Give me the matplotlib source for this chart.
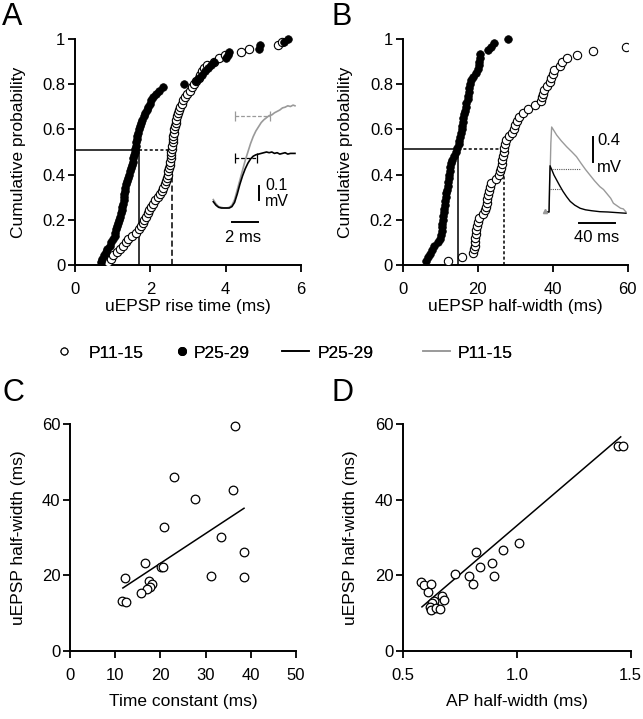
import numpy as np
import matplotlib
matplotlib.use("Agg")
import matplotlib.pyplot as plt
from matplotlib.lines import Line2D

plt.rcParams['font.family'] = ['Liberation Sans', 'DejaVu Sans']
plt.rcParams['font.size'] = 12

# ---------------- data ----------------
# Panel A: uEPSP rise time (ms), sorted
riseA_p25 = [0.68, 0.72, 0.78, 0.82, 0.86, 0.92, 0.96, 1.00, 1.05, 1.07, 1.10, 1.12, 1.14, 1.16,
             1.19, 1.22, 1.24, 1.25, 1.27, 1.29, 1.30, 1.31, 1.32, 1.34, 1.36, 1.38, 1.41, 1.43,
             1.46, 1.48, 1.50, 1.53, 1.55, 1.57, 1.59, 1.60, 1.61, 1.63, 1.64, 1.65, 1.67, 1.70,
             1.73, 1.76, 1.79, 1.82, 1.85, 1.90, 1.94, 1.98, 2.03, 2.08, 2.15, 2.22, 2.33, 2.90,
             3.20, 3.28, 3.36, 3.44, 3.52, 3.60, 3.68, 4.00, 4.05, 4.10, 4.88, 4.92, 5.55, 5.65]
riseA_p11 = [0.88, 0.95, 1.02, 1.12, 1.20, 1.28, 1.35, 1.42, 1.52, 1.62, 1.70, 1.76, 1.80, 1.84,
             1.88, 1.93, 1.97, 2.02, 2.07, 2.12, 2.20, 2.26, 2.30, 2.34, 2.38, 2.41, 2.44, 2.46,
             2.48, 2.50, 2.52, 2.53, 2.54, 2.55, 2.56, 2.57, 2.58, 2.59, 2.60, 2.61, 2.62, 2.64,
             2.66, 2.67, 2.69, 2.71, 2.74, 2.77, 2.80, 2.84, 2.88, 2.92, 2.98, 3.04, 3.10, 3.16,
             3.22, 3.28, 3.32, 3.38, 3.43, 3.50, 3.68, 3.82, 3.98, 4.42, 4.62, 5.38, 5.50, 6.60]
# Panel B: uEPSP half-width (ms), sorted
hwB_p25 = [6.3, 6.8, 7.2, 7.7, 8.4, 9.3, 10.0, 10.2, 10.4, 10.5, 10.6, 10.7, 10.8, 10.9, 11.0,
           11.2, 11.4, 11.5, 11.6, 11.8, 12.0, 12.2, 12.3, 12.4, 12.6, 12.7, 12.9, 13.1, 13.6,
           14.1, 14.6, 14.9, 15.1, 15.3, 15.5, 15.7, 15.8, 16.0, 16.2, 16.4, 16.6, 16.8, 17.0,
           17.3, 17.5, 17.7, 17.8, 17.9, 18.1, 18.8, 19.6, 20.1, 20.3, 20.4, 20.5, 20.7, 22.7,
           23.6, 24.4, 28.2]
hwB_p11 = [12.2, 15.8, 18.8, 19.0, 19.2, 19.3, 19.4, 19.5, 19.6, 19.8, 20.0, 20.4, 21.4, 21.9,
           22.2, 22.4, 22.6, 22.8, 23.0, 23.2, 23.5, 24.8, 25.6, 26.0, 26.2, 26.4, 26.6, 26.8,
           27.0, 27.1, 27.3, 27.6, 28.4, 29.2, 29.7, 30.0, 30.4, 31.0, 32.2, 33.4, 35.2, 36.9,
           37.2, 37.4, 37.6, 38.6, 39.3, 39.6, 40.0, 40.4, 42.0, 42.6, 43.8, 46.4, 50.8, 59.5,
           64.0, 70.0]
# medians (P25-29, P11-15) and the level they are read at
medA = [1.70, 2.57]
levelA = 0.51
medB = [14.8, 27.0]
levelB = 0.515

# Panel C
tauC = [36.4, 22.9, 36.0, 27.6, 20.7, 33.3, 38.6, 16.7, 20.1, 20.6, 12.2, 31.1, 38.6, 17.5,
        18.1, 17.7, 17.1, 15.7, 11.6, 12.5]
hwC = [59.4, 46.0, 42.5, 40.2, 32.7, 30.1, 26.1, 23.2, 22.2, 22.1, 19.3, 19.7, 19.4, 18.4,
       17.6, 16.9, 16.2, 15.2, 13.1, 12.8]
fitC_x = [11.7, 38.5]
fitC_y = [16.6, 37.7]

# Panel D
apD = [1.443, 1.468, 1.009, 0.938, 0.820, 0.889, 0.837, 0.729, 0.787, 0.899, 0.808, 0.579,
       0.591, 0.622, 0.610, 0.670, 0.680, 0.635, 0.625, 0.617, 0.620, 0.644, 0.661]
hwD = [54.2, 54.2, 28.5, 26.7, 26.1, 23.3, 22.2, 20.4, 19.7, 19.7, 17.6, 18.1, 17.4, 17.6,
       15.6, 14.6, 13.5, 13.2, 12.7, 11.6, 10.8, 11.4, 11.0]
fitD_x = [0.582, 1.456]
fitD_y = [11.6, 56.6]

# Inset A traces (ms, mV)
trA_t = [0.0, 0.2, 0.4, 0.6, 0.8, 1.0, 1.2, 1.4, 1.6, 1.8, 2.0, 2.2, 2.4, 2.6, 2.8, 3.0, 3.2,
         3.4, 3.6, 3.8, 4.0, 4.2, 4.4, 4.6, 4.8, 5.0, 5.2, 5.4, 5.6, 5.8, 6.0, 6.14]
trA_p11 = [0.06, 0.03, 0.01, 0.005, 0.0, 0.0, 0.005, 0.02, 0.06, 0.13, 0.20, 0.27, 0.34, 0.40,
           0.46, 0.51, 0.55, 0.58, 0.61, 0.63, 0.645, 0.66, 0.665, 0.68, 0.69, 0.70, 0.715,
           0.72, 0.73, 0.725, 0.735, 0.73]
trA_p25 = [0.045, 0.02, 0.005, 0.0, 0.0, 0.0, 0.0, 0.01, 0.04, 0.10, 0.17, 0.23, 0.28, 0.32,
           0.35, 0.37, 0.38, 0.385, 0.39, 0.395, 0.40, 0.395, 0.40, 0.39, 0.395, 0.385, 0.39,
           0.395, 0.385, 0.39, 0.39, 0.39]
riseBarA_p11 = [1.63, 4.26, 0.657]
riseBarA_p25 = [1.63, 3.26, 0.355]

# Inset B traces (ms, mV)
trB_t11 = [0, 4.5, 5.5, 6.5, 7.4, 10, 13, 18, 24, 30, 35, 40, 45, 50, 55, 61, 65, 69, 73, 76,
           80, 84, 87, 90]
trB_p11 = [0, 0, 0.5, 1.1, 1.36, 1.30, 1.23, 1.14, 1.045, 0.96, 0.885, 0.78, 0.68, 0.59, 0.50,
           0.405, 0.36, 0.29, 0.22, 0.14, 0.10, 0.06, 0.05, 0.0]
trB_t25 = [0, 4.5, 5.0, 5.6, 8, 10, 13, 16, 20, 24, 28, 33, 39, 45, 52, 61, 70, 80, 90]
trB_p25 = [0, 0, 0.4, 0.74, 0.66, 0.59, 0.51, 0.43, 0.33, 0.245, 0.17, 0.11, 0.06, 0.035,
           0.02, 0.005, 0.0, -0.01, -0.02]
halfB_p11 = [7.4, 38.9, 0.683]
halfB_p25 = [5.6, 16.7, 0.373]

GRAY = '#9a9a9a'
W, H = 643, 719

fig = plt.figure(figsize=(W / 100, H / 100), dpi=100)


def fr(left, top, width, height):
    return [left / W, 1 - (top + height) / H, width / W, height / H]


def style(ax, xb=None, yb=None):
    for s in ['top', 'right']:
        ax.spines[s].set_visible(False)
    for s in ['left', 'bottom']:
        ax.spines[s].set_linewidth(1.4)
    ax.tick_params(direction='out', length=5, width=1.3, labelsize=12)
    ax.tick_params(axis='x', pad=7.5)
    ax.tick_params(axis='y', pad=2)
    if xb:
        ax.spines['bottom'].set_bounds(*xb)
    if yb:
        ax.spines['left'].set_bounds(*yb)


def cdf(vals):
    v = np.asarray(vals)
    return v, np.arange(1, len(v) + 1) / len(v)


# ---------------- Panel A ----------------
axA = fig.add_axes(fr(75, 39 - 226 * 0.03, 226, 226 * 1.03))
x, y = cdf(riseA_p11)
axA.plot(x, y, 'o', ms=6, mfc='white', mec='black', mew=0.8, zorder=3)
x, y = cdf(riseA_p25)
axA.plot(x, y, 'o', ms=5.5, mfc='black', mec='black', mew=0.5, zorder=4)
axA.plot([0, medA[0]], [levelA, levelA], color='black', lw=1.1, zorder=2)
axA.plot([medA[0], medA[1]], [levelA, levelA], color='black', lw=1.1, ls=(0, (2, 1.5)), zorder=2)
axA.plot([medA[0], medA[0]], [0, levelA], color='black', lw=1.1, zorder=2)
axA.plot([medA[1], medA[1]], [0, levelA], color='black', lw=1.1, ls=(0, (4, 2)), zorder=2)
axA.set_xlim(0, 6)
axA.set_ylim(0, 1.03)
axA.set_xticks([0, 2, 4, 6])
axA.set_yticks([0, 0.2, 0.4, 0.6, 0.8, 1])
axA.set_yticklabels(['0', '0.2', '0.4', '0.6', '0.8', '1'])
style(axA, yb=(0, 1))
axA.set_xlabel('uEPSP rise time (ms)', fontsize=12.5)
axA.set_ylabel('Cumulative probability', fontsize=12.5)
axA.xaxis.set_label_coords(0.5, -0.145)
axA.yaxis.set_label_coords(-0.215, 0.485)

# ---------------- Panel B ----------------
axB = fig.add_axes(fr(402.7, 39 - 226 * 0.03, 225, 226 * 1.03))
x, y = cdf(hwB_p11)
axB.plot(x, y, 'o', ms=6, mfc='white', mec='black', mew=0.8, zorder=3)
x, y = cdf(hwB_p25)
axB.plot(x, y, 'o', ms=5.5, mfc='black', mec='black', mew=0.5, zorder=4)
axB.plot([0, medB[0]], [levelB, levelB], color='black', lw=1.1, zorder=2)
axB.plot([medB[0], medB[1]], [levelB, levelB], color='black', lw=1.1, ls=(0, (2, 1.5)), zorder=2)
axB.plot([medB[0], medB[0]], [0, levelB], color='black', lw=1.1, zorder=2)
axB.plot([medB[1], medB[1]], [0, levelB], color='black', lw=1.1, ls=(0, (2, 1.5)), zorder=2)
axB.set_xlim(0, 60)
axB.set_ylim(0, 1.03)
axB.set_xticks([0, 20, 40, 60])
axB.set_yticks([0, 0.2, 0.4, 0.6, 0.8, 1])
axB.set_yticklabels(['0', '0.2', '0.4', '0.6', '0.8', '1'])
style(axB, yb=(0, 1))
axB.set_xlabel('uEPSP half-width (ms)', fontsize=12.5)
axB.set_ylabel('Cumulative probability', fontsize=12.5)
axB.xaxis.set_label_coords(0.5, -0.145)
axB.yaxis.set_label_coords(-0.222, 0.485)

# ---------------- Inset A ----------------
L, T, Wd, Hd = 205, 95, 95, 150
iA = fig.add_axes(fr(L, T, Wd, Hd))
iA.set_xlim((L - 213.3) / 13.3, (L + Wd - 213.3) / 13.3)
iA.set_ylim((208 - (T + Hd)) / 140, (208 - T) / 140)
iA.axis('off')
iA.patch.set_alpha(0)
iA.plot(trA_t, trA_p11, color=GRAY, lw=1.2)
iA.plot(trA_t, trA_p25, color='black', lw=1.2)
for bar, c in [(riseBarA_p11, GRAY), (riseBarA_p25, 'black')]:
    iA.plot(bar[:2], [bar[2], bar[2]], color=c, lw=0.9, ls=(0, (3, 1.5)))
    iA.plot(bar[:2], [bar[2], bar[2]], ls='none', marker='|', ms=7, mew=0.9, color=c)
iA.plot([3.44, 3.44], [0.057, 0.157], color='black', lw=1.4)
iA.plot([1.38, 3.38], [-0.102, -0.102], color='black', lw=1.4)
iA.text(3.89, 0.132, '0.1', fontsize=11.5, ha='left', va='baseline')
iA.text(3.89, 0.012, 'mV', fontsize=11.5, ha='left', va='baseline')
iA.text(2.27, -0.243, '2 ms', fontsize=12, ha='center', va='baseline')

# ---------------- Inset B ----------------
L, T, Wd, Hd = 535, 115, 100, 135
iB = fig.add_axes(fr(L, T, Wd, Hd))
iB.set_xlim((L - 545) / 0.9, (L + Wd - 545) / 0.9)
iB.set_ylim((212 - (T + Hd)) / 62.5, (212 - T) / 62.5)
iB.axis('off')
iB.patch.set_alpha(0)
iB.plot(trB_t11, trB_p11, color=GRAY, lw=1.0)
iB.plot(trB_t25, trB_p25, color='black', lw=1.0)
iB.plot([0], [0.02], marker='^', ms=3, color=GRAY)
iB.plot(halfB_p11[:2], [halfB_p11[2]] * 2, color='#555555', lw=0.8, ls=(0, (1, 1)))
iB.plot(halfB_p25[:2], [halfB_p25[2]] * 2, color='#555555', lw=0.8, ls=(0, (1, 1)))
iB.plot([53, 53], [0.805, 1.205], color='black', lw=1.4)
iB.plot([37.8, 77.8], [-0.18, -0.18], color='black', lw=1.4)
iB.text(57.8, 1.072, '0.4', fontsize=12, ha='left', va='baseline')
iB.text(57.8, 0.64, 'mV', fontsize=12, ha='left', va='baseline')
iB.text(57.8, -0.48, '40 ms', fontsize=12, ha='center', va='baseline')

# ---------------- Panel C ----------------
axC = fig.add_axes(fr(70, 424, 226, 226.7))
axC.plot(tauC, hwC, 'o', ms=6.2, mfc='white', mec='black', mew=0.9, clip_on=False, zorder=3)
axC.plot(fitC_x, fitC_y, color='black', lw=1.1)
axC.set_xlim(0, 50)
axC.set_ylim(0, 60)
axC.set_xticks([0, 10, 20, 30, 40, 50])
axC.set_yticks([0, 20, 40, 60])
style(axC)
axC.set_xlabel('Time constant (ms)', fontsize=12.5)
axC.set_ylabel('uEPSP half-width (ms)', fontsize=12.5)
axC.xaxis.set_label_coords(0.5, -0.19)
axC.yaxis.set_label_coords(-0.195, 0.5)

# ---------------- Panel D ----------------
axD = fig.add_axes(fr(403.3, 424, 227.4, 226.7))
axD.plot(apD, hwD, 'o', ms=6.2, mfc='white', mec='black', mew=0.9, clip_on=False, zorder=3)
axD.plot(fitD_x, fitD_y, color='black', lw=1.1)
axD.set_xlim(0.5, 1.5)
axD.set_ylim(0, 60)
axD.set_xticks([0.5, 1.0, 1.5])
axD.set_xticklabels(['0.5', '1.0', '1.5'])
axD.set_yticks([0, 20, 40, 60])
style(axD)
axD.set_xlabel('AP half-width (ms)', fontsize=12.5)
axD.set_ylabel('uEPSP half-width (ms)', fontsize=12.5)
axD.xaxis.set_label_coords(0.5, -0.19)
axD.yaxis.set_label_coords(-0.2, 0.5)

# ---------------- Panel letters ----------------
for lab, px, py in [('A', 2, 2), ('B', 332, 2), ('C', 2, 378), ('D', 332, 378)]:
    fig.text(px / W, 1 - py / H, lab, fontsize=22, ha='left', va='top')

# ---------------- Legend (four entries placed as in the reference) ----------------
legend_labels = ['P11-15', 'P25-29', 'P25-29', 'P11-15']
entries = [
    (Line2D([], [], ls='none', marker='o', ms=5, mfc='white', mec='black', mew=0.8), 57, 0.8, 1.0),
    (Line2D([], [], ls='none', marker='o', ms=5.5, mfc='black', mec='black'), 175, 0.8, 0.25),
    (Line2D([], [], color='black', lw=1.2), 282, 1.55, 0.5),
    (Line2D([], [], color=GRAY, lw=1.2), 423, 1.55, 0.45),
]
for (h, xs, hl, tp), lab in zip(entries, legend_labels):
    lg = fig.legend([h], [lab], loc='center left', bbox_to_anchor=(xs / W, 1 - 353 / H),
                    frameon=False, fontsize=12.5, handlelength=hl, handletextpad=tp,
                    borderpad=0, borderaxespad=0)
    fig.add_artist(lg)

fig.savefig('out.png', dpi=100)
